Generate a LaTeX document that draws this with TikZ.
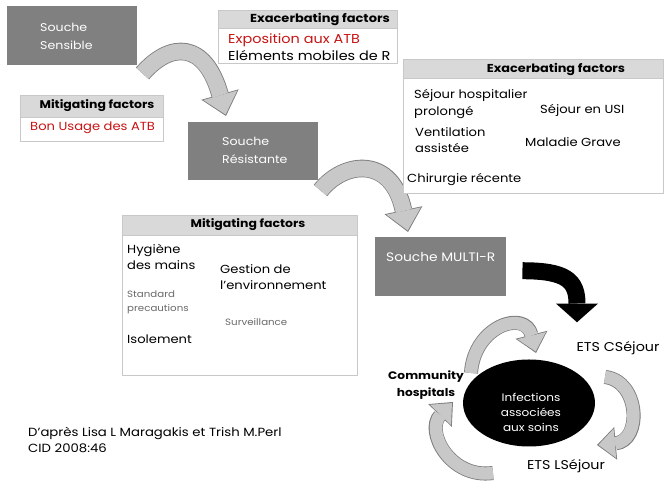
\documentclass[tikz,border=0pt]{standalone}
\usepackage{fontspec}
\setmainfont{Poppins}[FakeStretch=1.12]
\usepackage{tikz}
\usetikzlibrary{arrows.meta,shapes.geometric}
\definecolor{souchegray}{RGB}{128,128,128}
\definecolor{headgray}{RGB}{217,217,217}
\definecolor{framegray}{RGB}{200,200,200}
\definecolor{atbred}{RGB}{200,20,20}
\definecolor{bandfill}{RGB}{200,200,200}
\definecolor{bandline}{RGB}{125,125,125}
\definecolor{smallgray}{RGB}{105,105,105}
\tikzset{
    souche/.style = {fill=souchegray, draw=none, anchor=north west, inner sep=0pt},
    soutxt/.style = {anchor=west, align=left, inner sep=0pt, text=white, font=\fontsize{9.6}{15.4}\selectfont},
    tabhead/.style = {fill=headgray, draw=framegray, line width=0.8pt, anchor=north west, inner sep=0pt},
    tabbody/.style = {fill=white, draw=framegray, line width=0.8pt, anchor=north west, inner sep=0pt},
    headtxt/.style = {font=\fontsize{9.5}{11}\selectfont\bfseries, inner sep=0pt},
    fact/.style = {anchor=west, align=left, inner sep=0pt, font=\fontsize{10}{14}\selectfont},
    bigfact/.style = {fact, font=\fontsize{11}{14}\selectfont},
    smallfact/.style = {fact, text=smallgray, font=\fontsize{7.8}{12}\selectfont},
    cyclabel/.style = {inner sep=0pt, font=\fontsize{10.9}{13}\selectfont},
    bigout/.style = {draw=bandline, line width=15pt, -{Triangle[length=19pt,width=33pt,line width=0pt]}},
    bigin/.style = {draw=bandfill, line width=13.6pt, shorten >=1.3pt, -{Triangle[length=17pt,width=30pt,line width=0pt]}},
    smallout/.style = {draw=bandline, line width=12pt, -{Triangle[length=16pt,width=28pt,line width=0pt]}},
    smallin/.style = {draw=bandfill, line width=10.6pt, shorten >=1.3pt, -{Triangle[length=14pt,width=25pt,line width=0pt]}},
    blackband/.style = {draw=black, line width=14.5pt, -{Triangle[length=16pt,width=36pt,line width=0pt]}}
}

\begin{document}
\begin{tikzpicture}[x=0.03cm,y=0.03cm,line join=round]
\useasboundingbox (0,0) rectangle (670,481);

\node[souche, minimum width=3.9cm, minimum height=1.77cm] (sens) at (7,475) {};
\node[souche, minimum width=3.9cm, minimum height=1.74cm] (res) at (188,359) {};
\node[souche, minimum width=3.93cm, minimum height=1.77cm] (multi) at (375,244) {};
\node[ellipse, fill=black, minimum width=3.96cm, minimum height=2.61cm, inner sep=0pt] (iac) at (529,78) {};

% big curved arrows
\draw[bigout] ([shift={(5,-8)}]sens.south east) .. controls +(28,32) and +(-21,75) .. ([shift={(38,6)}]res.north west);
\draw[bigin] ([shift={(5,-8)}]sens.south east) .. controls +(28,32) and +(-21,75) .. ([shift={(38,6)}]res.north west);
\draw[bigout] ([shift={(2,-10)}]res.south east) .. controls +(24,30) and +(-16,76) .. ([shift={(33,5)}]multi.north west);
\draw[bigin] ([shift={(2,-10)}]res.south east) .. controls +(24,30) and +(-16,76) .. ([shift={(33,5)}]multi.north west);
\draw[blackband] ([shift={(16,-4)}]multi.east) .. controls +(43,0) and +(0,42) .. ([shift={(48,37)}]iac.north);

% cycle
\draw[smallout] ([shift={(-58,30)}]iac.center) .. controls +(3,47) and +(-11,44) .. ([shift={(7,50)}]iac.center);
\draw[smallin] ([shift={(-58,30)}]iac.center) .. controls +(3,47) and +(-11,44) .. ([shift={(7,50)}]iac.center);
\draw[smallout] ([shift={(76,26)}]iac.center) .. controls +(35,-4) and +(45,4) .. ([shift={(68,-42)}]iac.center);
\draw[smallin] ([shift={(76,26)}]iac.center) .. controls +(35,-4) and +(45,4) .. ([shift={(68,-42)}]iac.center);
\draw[smallout] ([shift={(-36,-70)}]iac.center) .. controls +(-43,-6) and +(-28,-29) .. ([shift={(-76,1)}]iac.center);
\draw[smallin] ([shift={(-36,-70)}]iac.center) .. controls +(-43,-6) and +(-28,-29) .. ([shift={(-76,1)}]iac.center);

\node[soutxt] (senstxt) at (40,445) {Souche\\Sensible};
\node[soutxt] (restxt) at (222,331) {Souche\\Résistante};
\node[soutxt, font=\fontsize{10.5}{13}\selectfont] (multitxt) at (386,224) {Souche MULTI-R};
\node[align=center, text=white, font=\fontsize{9.2}{12.8}\selectfont] (iactxt) at (531,69) {Infections\\associées\\aux soins};

\node[tabhead, minimum width=5.37cm, minimum height=0.54cm] (exa1h) at (218,471) {};
\node[tabbody, minimum width=5.37cm, minimum height=1.05cm] (exa1b) at (218,453) {};
\node[headtxt, font=\fontsize{9.9}{11}\selectfont\bfseries] (exa1t) at (320,462) {Exacerbating factors};
\node[bigfact, text=atbred] (expo) at (228,441) {Exposition aux ATB};
\node[bigfact] (elem) at (228,425) {Eléments mobiles de R};

\node[tabhead, minimum width=4.29cm, minimum height=0.66cm] (mit1h) at (20,386) {};
\node[tabbody, minimum width=4.29cm, minimum height=0.72cm] (mit1b) at (20,364) {};
\node[headtxt] (mit1t) at (97,375) {Mitigating factors};
\node[fact, text=atbred] (bon) at (30,353) {Bon Usage des ATB};

\node[tabhead, minimum width=7.8cm, minimum height=0.57cm] (exa2h) at (403,422) {};
\node[tabbody, minimum width=7.8cm, minimum height=3.45cm] (exa2b) at (403,403) {};
\node[headtxt, font=\fontsize{9.8}{11}\selectfont\bfseries] (exa2t) at (556,412) {Exacerbating factors};
\node[fact] (sejour) at (414,377) {Séjour hospitalier\\prolongé};
\node[fact] (usi) at (540,371) {Séjour en USI};
\node[fact] (vent) at (415,341) {Ventilation\\assistée};
\node[fact] (grave) at (525,339) {Maladie Grave};
\node[fact] (chir) at (407,301) {Chirurgie récente};

\node[tabhead, minimum width=7.05cm, minimum height=0.6cm] (mit2h) at (122,266) {};
\node[tabbody, minimum width=7.05cm, minimum height=4.2cm] (mit2b) at (122,246) {};
\node[headtxt] (mit2t) at (248,256) {Mitigating factors};
\node[fact] (hyg) at (127,224) {Hygiène\\des mains};
\node[fact] (gest) at (220,204) {Gestion de\\l'environnement};
\node[smallfact] (std) at (127,179) {Standard\\precautions};
\node[smallfact] (surv) at (225,159) {Surveillance};
\node[fact] (iso) at (127,142) {Isolement};

\node[cyclabel] (cs) at (618,133) {ETS CSéjour};
\node[align=center, inner sep=0pt, font=\fontsize{9.3}{14}\selectfont\bfseries] (comm) at (426,96) {Community\\hospitals};
\node[cyclabel] (ls) at (566,15) {ETS LSéjour};
\node[fact, font=\fontsize{10.1}{13.7}\selectfont] (cite) at (28,41) {D'après Lisa L Maragakis et Trish M.Perl\\CID 2008:46};
\end{tikzpicture}
\end{document}
